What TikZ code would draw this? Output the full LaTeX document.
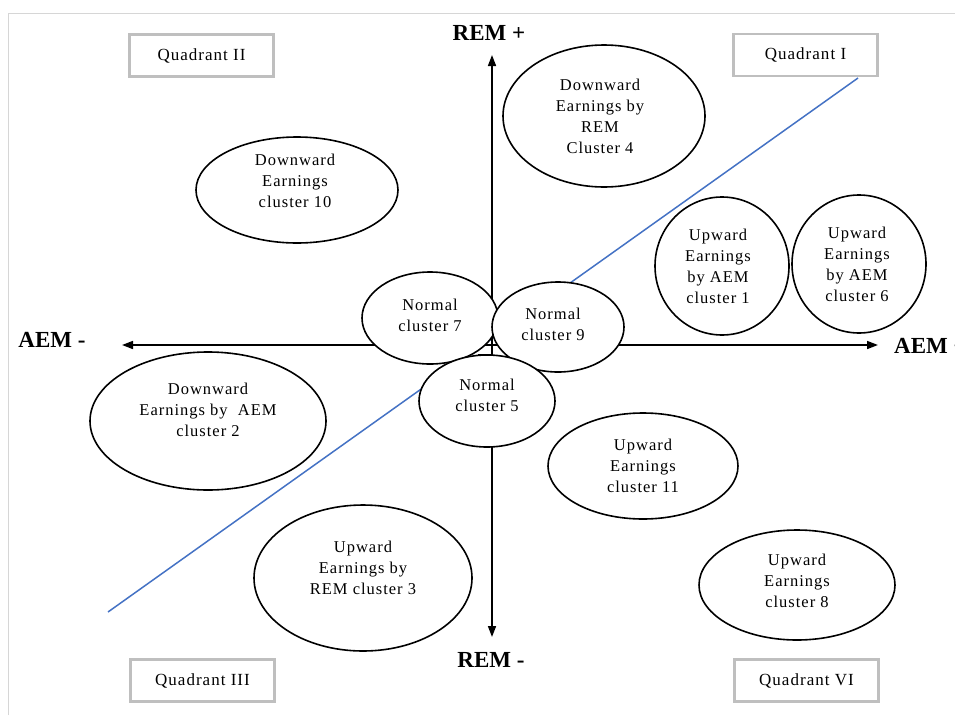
\documentclass[tikz,border=0pt]{standalone}
\usepackage{fontspec}
\setmainfont{Liberation Serif}
\newfontfamily\spacedserif[LetterSpace=6]{Liberation Serif}
\usetikzlibrary{arrows.meta,shapes.geometric}
\definecolor{trend}{RGB}{68,114,196}
\definecolor{boxgray}{RGB}{191,191,191}
\definecolor{framegray}{RGB}{214,214,214}
\begin{document}
\begin{tikzpicture}[x=1pt,y=-1pt,
  cluster/.style={ellipse, draw, line width=1.6pt, fill=white, inner sep=0pt},
  ctext/.style={align=center, font=\spacedserif\fontsize{16.5}{21}\selectfont, inner sep=0pt},
  quad/.style={draw=boxgray, line width=2.5pt, fill=white, inner sep=0pt,
               minimum width=144pt, minimum height=42pt, font=\spacedserif\fontsize{17}{20}\selectfont},
  axisline/.style={line width=1.6pt, {Triangle[length=11pt,width=8pt]}-{Triangle[length=11pt,width=8pt]}},
  axlabel/.style={font=\fontsize{23}{26}\selectfont\bfseries, inner sep=0pt}]
\useasboundingbox (0,0) rectangle (955,715);

% page frame
\coordinate (fbl) at (8,715);
\coordinate (ftl) at (8,13);
\coordinate (ftr) at (955,13);
\draw[framegray, line width=1pt] (fbl) -- (ftl) -- (ftr);

% separating trend line
\coordinate (trendlo) at (108,612);
\coordinate (trendhi) at (858,78);
\draw[trend, line width=1.5pt] (trendlo) -- (trendhi);

% axes
\coordinate (ytop) at (492,55);
\coordinate (ybot) at (492,637);
\coordinate (xleft) at (122,345);
\coordinate (xright) at (878,345);
\draw[axisline] (ytop) -- (ybot);
\draw[axisline] (xleft) -- (xright);
\coordinate (m1) at (478,355);
\coordinate (m2) at (492,355);
\draw[line width=1.4pt] (m1) -- (m2);

% axis labels
\node[axlabel] (remp) at (489,33) {REM +};
\node[axlabel] (remm) at (491,660) {REM -};
\node[axlabel] (aemm) at (52,340) {AEM -};
\node[axlabel, anchor=west] (aemp) at (894,346) {AEM +};

% clusters
\node[cluster, minimum width=202pt, minimum height=142pt] (c4) at (604,116) {};
\node[cluster, minimum width=202pt, minimum height=106pt] (c10) at (297,190) {};
\node[cluster, minimum width=134pt, minimum height=138pt] (c1) at (722,266) {};
\node[cluster, minimum width=134pt, minimum height=138pt] (c6) at (859,264) {};
\node[cluster, minimum width=136pt, minimum height=92pt] (c7) at (430,318) {};
\node[cluster, minimum width=132pt, minimum height=90pt] (c9) at (558,327) {};
\node[cluster, minimum width=136pt, minimum height=92pt] (c5) at (487,401) {};
\node[cluster, minimum width=236pt, minimum height=138pt] (c2) at (208,421) {};
\node[cluster, minimum width=190pt, minimum height=106pt] (c11) at (643,466) {};
\node[cluster, minimum width=218pt, minimum height=146pt] (c3) at (363,578) {};
\node[cluster, minimum width=196pt, minimum height=110pt] (c8) at (797,585) {};

\node[ctext] (t4) at (600,116) {Downward\\Earnings by\\REM\\Cluster 4};
\node[ctext] (t10) at (295,181) {Downward\\Earnings\\cluster 10};
\node[ctext] (t1) at (718,266) {Upward\\Earnings\\by AEM\\cluster 1};
\node[ctext] (t6) at (857,264) {Upward\\Earnings\\by AEM\\cluster 6};
\node[ctext] (t7) at (430,315) {Normal\\cluster 7};
\node[ctext] (t9) at (553,324) {Normal\\cluster 9};
\node[ctext] (t5) at (487,395) {Normal\\cluster 5};
\node[ctext] (t2) at (208,410) {Downward\\Earnings by\ \ AEM\\cluster 2};
\node[ctext] (t11) at (643,466) {Upward\\Earnings\\cluster 11};
\node[ctext] (t3) at (363,568) {Upward\\Earnings by\\REM cluster 3};
\node[ctext] (t8) at (797,581) {Upward\\Earnings\\cluster 8};

% quadrant tags
\node[quad] (q2) at (201.5,55.5) {Quadrant II};
\node[quad] (q1) at (805.5,55) {Quadrant I};
\node[quad] (q3) at (202.5,680.5) {Quadrant III};
\node[quad] (q6) at (806.5,680.5) {Quadrant VI};
\end{tikzpicture}
\end{document}
